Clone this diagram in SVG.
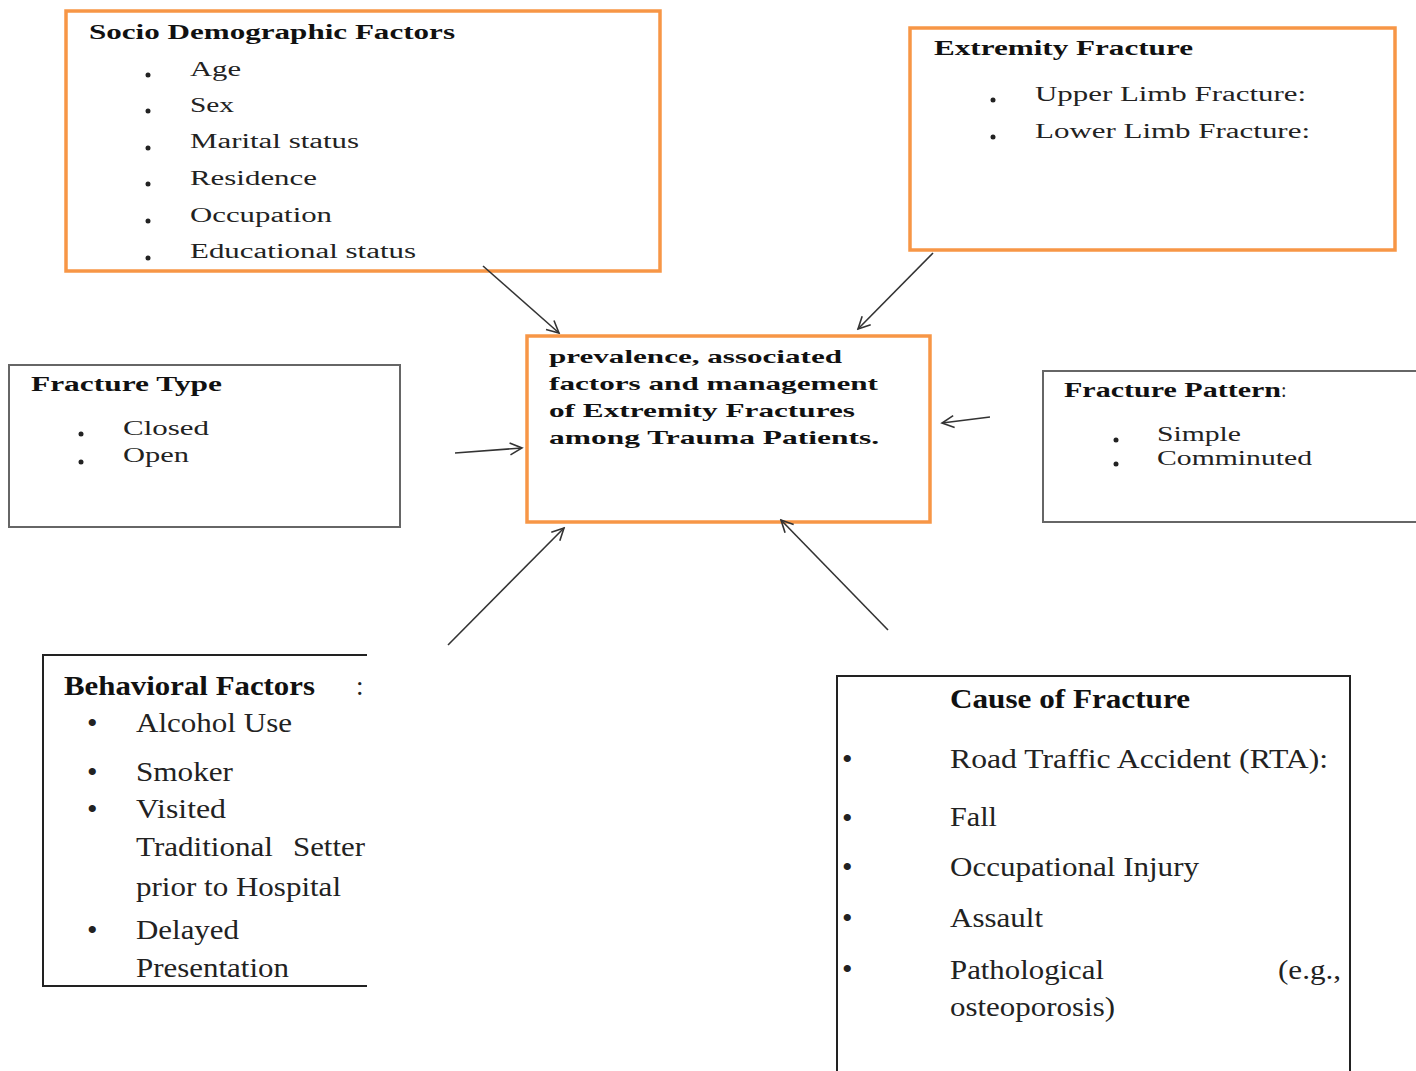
<svg xmlns="http://www.w3.org/2000/svg" width="1416" height="1071" viewBox="0 0 1416 1071">
<defs>
<marker id="arr" markerUnits="userSpaceOnUse" markerWidth="16" markerHeight="16" viewBox="0 0 16 16" refX="14" refY="8" orient="auto">
<path d="M2,2 L14,8 L2,14" fill="none" stroke="#333" stroke-width="1.6"/>
</marker>
<style>
.orange{fill:#fff;stroke:#F79646;stroke-width:3.5}
.gray{fill:#fff;stroke:#666;stroke-width:2}
.blk{fill:none;stroke:#222;stroke-width:2}
.t{font-family:"Liberation Serif",serif;fill:#222}
.tb{font-family:"Liberation Serif",serif;font-weight:bold;fill:#111}
.top{font-size:20px}
.ctr{font-size:19px}
.big{font-size:27px}
.bul{font-family:"Liberation Serif",serif;font-size:30px;fill:#222}
.dot{fill:#222}
.con{stroke:#333;stroke-width:1.6;fill:none;marker-end:url(#arr)}
</style>
</defs>
<rect width="1416" height="1071" fill="#fff"/>

<g id="socio">
<rect class="orange" x="66" y="11" width="594" height="260"/>
<text class="tb top" x="89" y="39" textLength="366" lengthAdjust="spacingAndGlyphs">Socio Demographic Factors</text>
<circle class="dot" cx="148" cy="75" r="2.5"/>
<circle class="dot" cx="148" cy="111" r="2.5"/>
<circle class="dot" cx="148" cy="148" r="2.5"/>
<circle class="dot" cx="148" cy="184" r="2.5"/>
<circle class="dot" cx="148" cy="221" r="2.5"/>
<circle class="dot" cx="148" cy="258" r="2.5"/>
<text class="t top" x="190" y="76" textLength="51" lengthAdjust="spacingAndGlyphs">Age</text>
<text class="t top" x="190" y="112" textLength="44" lengthAdjust="spacingAndGlyphs">Sex</text>
<text class="t top" x="190" y="148" textLength="169" lengthAdjust="spacingAndGlyphs">Marital status</text>
<text class="t top" x="190" y="185" textLength="127" lengthAdjust="spacingAndGlyphs">Residence</text>
<text class="t top" x="190" y="222" textLength="142" lengthAdjust="spacingAndGlyphs">Occupation</text>
<text class="t top" x="190" y="258" textLength="226" lengthAdjust="spacingAndGlyphs">Educational status</text>
</g>

<g id="extremity">
<rect class="orange" x="910" y="28" width="485" height="222"/>
<text class="tb top" x="934" y="55" textLength="259" lengthAdjust="spacingAndGlyphs">Extremity Fracture</text>
<circle class="dot" cx="993" cy="100" r="2.5"/>
<circle class="dot" cx="993" cy="137" r="2.5"/>
<text class="t top" x="1035" y="101" textLength="271" lengthAdjust="spacingAndGlyphs">Upper Limb Fracture:</text>
<text class="t top" x="1035" y="138" textLength="275" lengthAdjust="spacingAndGlyphs">Lower Limb Fracture:</text>
</g>

<g id="center">
<rect class="orange" x="527" y="336" width="403" height="186"/>
<text class="tb ctr" x="549" y="363" textLength="293" lengthAdjust="spacingAndGlyphs">prevalence, associated</text>
<text class="tb ctr" x="549" y="390" textLength="329" lengthAdjust="spacingAndGlyphs">factors and management</text>
<text class="tb ctr" x="549" y="417" textLength="306" lengthAdjust="spacingAndGlyphs">of Extremity Fractures</text>
<text class="tb ctr" x="549" y="444" textLength="330" lengthAdjust="spacingAndGlyphs">among Trauma Patients.</text>
</g>

<g id="fracture-type">
<rect class="gray" x="9" y="365" width="391" height="162"/>
<text class="tb top" x="31" y="391" textLength="191" lengthAdjust="spacingAndGlyphs">Fracture Type</text>
<circle class="dot" cx="81" cy="434" r="2.5"/>
<circle class="dot" cx="81" cy="462" r="2.5"/>
<text class="t top" x="123" y="435" textLength="86" lengthAdjust="spacingAndGlyphs">Closed</text>
<text class="t top" x="123" y="462" textLength="66" lengthAdjust="spacingAndGlyphs">Open</text>
</g>

<g id="fracture-pattern">
<rect class="gray" x="1043" y="371" width="380" height="151"/>
<text class="tb top" x="1064" y="397" textLength="217" lengthAdjust="spacingAndGlyphs">Fracture Pattern</text>
<text class="t top" x="1281" y="397">:</text>
<circle class="dot" cx="1116" cy="440" r="2.5"/>
<circle class="dot" cx="1116" cy="464" r="2.5"/>
<text class="t top" x="1157" y="441" textLength="84" lengthAdjust="spacingAndGlyphs">Simple</text>
<text class="t top" x="1157" y="465" textLength="155" lengthAdjust="spacingAndGlyphs">Comminuted</text>
</g>

<g id="behavioral">
<path class="blk" d="M367,655 H43 V986 H367"/>
<text class="tb big" x="64" y="695" textLength="251" lengthAdjust="spacingAndGlyphs">Behavioral Factors</text>
<text class="t big" x="356" y="695">:</text>
<text class="bul" x="87" y="733">•</text>
<text class="bul" x="87" y="782">•</text>
<text class="bul" x="87" y="819">•</text>
<text class="bul" x="87" y="940">•</text>
<text class="t big" x="136" y="732" textLength="156" lengthAdjust="spacingAndGlyphs">Alcohol Use</text>
<text class="t big" x="136" y="781" textLength="97" lengthAdjust="spacingAndGlyphs">Smoker</text>
<text class="t big" x="136" y="818" textLength="90" lengthAdjust="spacingAndGlyphs">Visited</text>
<text class="t big" x="136" y="856" textLength="137" lengthAdjust="spacingAndGlyphs">Traditional</text>
<text class="t big" x="293" y="856" textLength="72" lengthAdjust="spacingAndGlyphs">Setter</text>
<text class="t big" x="136" y="896" textLength="205" lengthAdjust="spacingAndGlyphs">prior to Hospital</text>
<text class="t big" x="136" y="939" textLength="103" lengthAdjust="spacingAndGlyphs">Delayed</text>
<text class="t big" x="136" y="977" textLength="153" lengthAdjust="spacingAndGlyphs">Presentation</text>
</g>

<g id="cause">
<rect class="blk" x="837" y="676" width="513" height="420"/>
<text class="tb big" x="950" y="708" textLength="240" lengthAdjust="spacingAndGlyphs">Cause of Fracture</text>
<text class="bul" x="842" y="769">•</text>
<text class="bul" x="842" y="828">•</text>
<text class="bul" x="842" y="877">•</text>
<text class="bul" x="842" y="928">•</text>
<text class="bul" x="842" y="979">•</text>
<text class="t big" x="950" y="768" textLength="378" lengthAdjust="spacingAndGlyphs">Road Traffic Accident (RTA):</text>
<text class="t big" x="950" y="826" textLength="47" lengthAdjust="spacingAndGlyphs">Fall</text>
<text class="t big" x="950" y="876" textLength="249" lengthAdjust="spacingAndGlyphs">Occupational Injury</text>
<text class="t big" x="950" y="927" textLength="93" lengthAdjust="spacingAndGlyphs">Assault</text>
<text class="t big" x="950" y="979" textLength="154" lengthAdjust="spacingAndGlyphs">Pathological</text>
<text class="t big" x="1278" y="979" textLength="63" lengthAdjust="spacingAndGlyphs">(e.g.,</text>
<text class="t big" x="950" y="1016" textLength="165" lengthAdjust="spacingAndGlyphs">osteoporosis)</text>
</g>

<g id="connectors">
<line class="con" x1="483" y1="266" x2="559" y2="333"/>
<line class="con" x1="933" y1="253" x2="858" y2="329"/>
<line class="con" x1="455" y1="453" x2="522" y2="448"/>
<line class="con" x1="990" y1="417" x2="942" y2="423"/>
<line class="con" x1="448" y1="645" x2="564" y2="528"/>
<line class="con" x1="888" y1="630" x2="781" y2="520"/>
</g>
</svg>
